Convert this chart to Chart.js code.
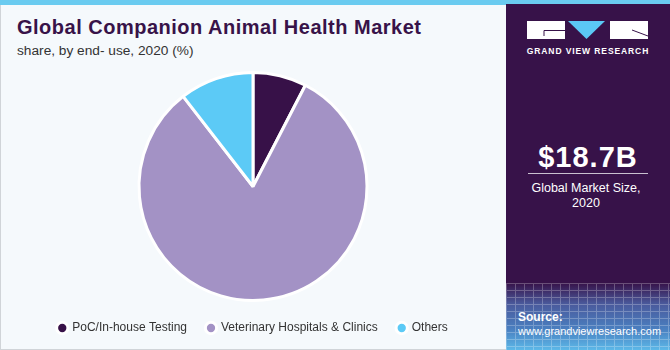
<!DOCTYPE html>
<html>
<head>
<meta charset="utf-8">
<script src="https://cdn.jsdelivr.net/npm/chart.js@4"></script>
<style>
  html, body { margin: 0; padding: 0; }
  body { width: 670px; height: 350px; position: relative; overflow: hidden; background: #f5f9fc; font-family: "Liberation Sans", Arial, sans-serif; }
  #topbar { position: absolute; left: 0; top: 0; width: 670px; height: 5px; background: #6acbf0; }
  #frame { position: absolute; left: 0; top: 5px; width: 505px; height: 344px; border-left: 1px solid #d0d4d8; border-bottom: 1px solid #d0d4d8; }
  #title { position: absolute; left: 17px; top: 16px; font-size: 20px; font-weight: bold; color: #381349; letter-spacing: 0.5px; }
  #subtitle { position: absolute; left: 17px; top: 43px; font-size: 13.7px; color: #333; }
  #chartBox { position: absolute; left: 0; top: 60px; width: 506px; height: 284px; }
  #panel { position: absolute; left: 506px; top: 4px; width: 164px; height: 346px;
    background: linear-gradient(to bottom, #371249 0px, #371249 279px, #4a5a9c 300px, #4a7fc0 325px, #5cb8e8 346px); }
  #grid { position: absolute; left: 0; top: 279px; width: 164px; height: 67px; opacity: 0.25;
    background-image: repeating-linear-gradient(to right, #ffffff 0 1px, transparent 1px 9px),
                      repeating-linear-gradient(to bottom, #ffffff 0 1px, transparent 1px 7px); }
  #logo { position: absolute; left: 21px; top: 16px; }
  #gvr { position: absolute; left: 0; width: 164px; top: 42px; text-align: center; color: #fff; font-size: 8.5px; font-weight: bold; letter-spacing: 0.9px; }
  #size { position: absolute; left: 0; width: 164px; top: 137px; text-align: center; color: #fff; font-size: 29px; font-weight: bold; letter-spacing: 1px; }
  #rule { position: absolute; left: 22px; width: 120px; top: 169px; height: 1px; background: #c9c0d0; }
  #sizeLabel { position: absolute; left: 0; width: 160px; top: 177px; text-align: center; color: #fff; font-size: 12.5px; line-height: 15px; }
  #source { position: absolute; left: 12px; top: 306px; color: #fff; font-size: 11px; line-height: 14px; }
  #source b { font-weight: bold; font-size: 12px; }
</style>
</head>
<body>
<div id="topbar"></div>
<div id="frame"></div>
<div id="title">Global Companion Animal Health Market</div>
<div id="subtitle">share, by end- use, 2020 (%)</div>
<div id="chartBox"><canvas id="pie"></canvas></div>
<div id="panel">
  <div id="grid"></div>
  <svg id="logo" width="125" height="22" viewBox="0 0 125 22">
    <rect x="0" y="1" width="38" height="18" fill="#ffffff"/>
    <polyline points="38,10.5 17,10.5 17,16" fill="none" stroke="#371249" stroke-width="1"/>
    <polygon points="41,1 78,1 59.5,19" fill="#5bc8f5"/>
    <rect x="83" y="1" width="38" height="18" fill="#ffffff"/>
    <line x1="105" y1="10" x2="121" y2="16" stroke="#371249" stroke-width="1"/>
  </svg>
  <div id="gvr">GRAND VIEW RESEARCH</div>
  <div id="size">$18.7B</div>
  <div id="rule"></div>
  <div id="sizeLabel">Global Market Size,<br>2020</div>
  <div id="source"><b>Source:</b><br>www.grandviewresearch.com</div>
</div>
<script>
// end-use segments, 2020 share (%)
const segments = ["PoC/In-house Testing", "Veterinary Hospitals & Clinics", "Others"];
const shares = [7.6, 81.9, 10.5];
const sliceColors = ["#371148", "#a392c5", "#5ccaf6"];

const ctx = document.getElementById("pie").getContext("2d");
const pieChart = new Chart(ctx, {
  type: "pie",
  data: {
    labels: segments,
    datasets: [
      {
        data: shares,
        backgroundColor: sliceColors,
        borderColor: "#ffffff",
        borderWidth: 3,
      },
    ],
  },
  options: {
    responsive: true,
    maintainAspectRatio: false,
    animation: false,
    layout: {
      padding: { top: 11, bottom: 0 },
    },
    plugins: {
      tooltip: { enabled: false },
      legend: {
        position: "bottom",
        labels: {
          usePointStyle: true,
          pointStyle: "circle",
          boxWidth: 8,
          boxHeight: 8,
          padding: 20,
          color: "#333333",
          font: { family: "'Liberation Sans', Arial, sans-serif", size: 12 },
        },
      },
    },
  },
});
</script>
</body>
</html>
